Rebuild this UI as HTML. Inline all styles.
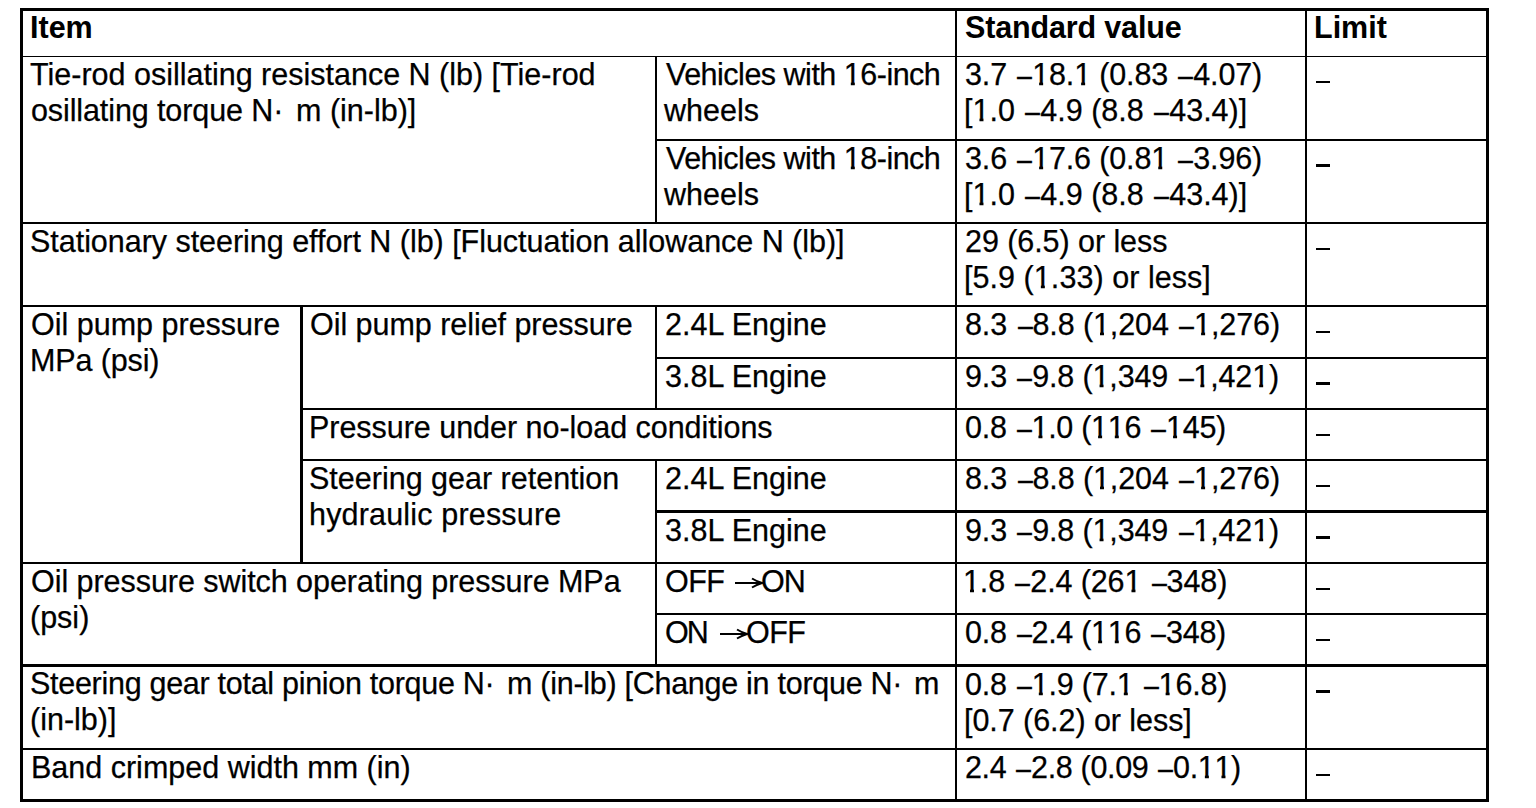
<!DOCTYPE html>
<html><head><meta charset="utf-8"><title>Steering specifications</title><style>
html,body{margin:0;padding:0;background:#fff;}
body{width:1536px;height:808px;position:relative;overflow:hidden;}
.l{position:absolute;background:#000;}
.t{position:absolute;font-family:"Liberation Sans",sans-serif;font-size:30.5px;line-height:36px;white-space:pre;color:#000;-webkit-text-stroke:0.25px #000;}
.b{font-weight:bold;-webkit-text-stroke:0;}
.o{display:inline-block;clip-path:polygon(0 0,100% 0,100% 26px,11px 26px,11px 40px,7px 40px,7px 26px,0 26px);}
.d{display:inline-block;transform:translateY(1px) scaleX(0.88);transform-origin:100% 50%;}
</style></head><body>
<div class="l" style="left:20px;top:8px;width:1469px;height:3px"></div>
<div class="l" style="left:20px;top:56px;width:1469px;height:1px"></div>
<div class="l" style="left:655px;top:139px;width:834px;height:2px"></div>
<div class="l" style="left:20px;top:222px;width:1469px;height:2px"></div>
<div class="l" style="left:20px;top:305px;width:1469px;height:2px"></div>
<div class="l" style="left:655px;top:357px;width:834px;height:2px"></div>
<div class="l" style="left:300px;top:408px;width:1189px;height:2px"></div>
<div class="l" style="left:300px;top:459px;width:1189px;height:2px"></div>
<div class="l" style="left:655px;top:510px;width:834px;height:3px"></div>
<div class="l" style="left:20px;top:562px;width:1469px;height:2px"></div>
<div class="l" style="left:655px;top:613px;width:834px;height:2px"></div>
<div class="l" style="left:20px;top:664px;width:1469px;height:3px"></div>
<div class="l" style="left:20px;top:748px;width:1469px;height:2px"></div>
<div class="l" style="left:20px;top:799px;width:1469px;height:3px"></div>
<div class="l" style="left:20px;top:8px;width:3px;height:794px"></div>
<div class="l" style="left:300px;top:305px;width:3px;height:259px"></div>
<div class="l" style="left:655px;top:56px;width:2px;height:168px"></div>
<div class="l" style="left:655px;top:305px;width:2px;height:105px"></div>
<div class="l" style="left:655px;top:459px;width:2px;height:207px"></div>
<div class="l" style="left:955px;top:8px;width:2px;height:794px"></div>
<div class="l" style="left:1305px;top:8px;width:2px;height:794px"></div>
<div class="l" style="left:1486px;top:8px;width:3px;height:794px"></div>
<div class="l" style="left:1316px;top:81px;width:14px;height:2px"></div>
<div class="l" style="left:1316px;top:164px;width:14px;height:3px"></div>
<div class="l" style="left:1316px;top:248px;width:14px;height:2px"></div>
<div class="l" style="left:1316px;top:331px;width:14px;height:2px"></div>
<div class="l" style="left:1316px;top:382px;width:14px;height:3px"></div>
<div class="l" style="left:1316px;top:434px;width:14px;height:2px"></div>
<div class="l" style="left:1316px;top:485px;width:14px;height:2px"></div>
<div class="l" style="left:1316px;top:536px;width:14px;height:3px"></div>
<div class="l" style="left:1316px;top:588px;width:14px;height:2px"></div>
<div class="l" style="left:1316px;top:639px;width:14px;height:2px"></div>
<div class="l" style="left:1316px;top:690px;width:14px;height:3px"></div>
<div class="l" style="left:1316px;top:774px;width:14px;height:2px"></div>
<div class="t b" style="left:30px;top:9px">Item</div>
<div class="t b" style="left:965px;top:9px;letter-spacing:-0.154px">Standard value</div>
<div class="t b" style="left:1314px;top:9px">Limit</div>
<div class="t" style="left:30px;top:56px">Tie-rod osillating resistance N (lb) [Tie-rod</div>
<div class="t" style="left:31px;top:92px;letter-spacing:-0.105px">osillating torque N·</div>
<div class="t" style="left:296px;top:92px">m (in-lb)]</div>
<div class="t" style="left:666px;top:56px;letter-spacing:-0.5px">Vehicles with <span class="o">1</span>6-inch</div>
<div class="t" style="left:664px;top:92px">wheels</div>
<div class="t" style="left:965px;top:56px;letter-spacing:-0.143px">3.7 <span class="d">–</span><span class="o">1</span>8.<span class="o">1</span> (0.83 <span class="d">–</span>4.07)</div>
<div class="t" style="left:964px;top:92px">[<span class="o">1</span>.0 <span class="d">–</span>4.9 (8.8 <span class="d">–</span>43.4)]</div>
<div class="t" style="left:666px;top:140px;letter-spacing:-0.5px">Vehicles with <span class="o">1</span>8-inch</div>
<div class="t" style="left:664px;top:176px">wheels</div>
<div class="t" style="left:965px;top:140px;letter-spacing:-0.143px">3.6 <span class="d">–</span><span class="o">1</span>7.6 (0.8<span class="o">1</span> <span class="d">–</span>3.96)</div>
<div class="t" style="left:964px;top:176px">[<span class="o">1</span>.0 <span class="d">–</span>4.9 (8.8 <span class="d">–</span>43.4)]</div>
<div class="t" style="left:30px;top:223px;letter-spacing:-0.032px">Stationary steering effort N (lb) [Fluctuation allowance N (lb)]</div>
<div class="t" style="left:965px;top:223px;letter-spacing:-0.067px">29 (6.5) or less</div>
<div class="t" style="left:964px;top:259px;letter-spacing:0.053px">[5.9 (<span class="o">1</span>.33) or less]</div>
<div class="t" style="left:31px;top:306px">Oil pump pressure</div>
<div class="t" style="left:30px;top:342px;letter-spacing:-0.125px">MPa (psi)</div>
<div class="t" style="left:310px;top:306px;letter-spacing:-0.043px">Oil pump relief pressure</div>
<div class="t" style="left:665px;top:306px">2.4L Engine</div>
<div class="t" style="left:965px;top:306px;letter-spacing:-0.091px">8.3 <span class="d">–</span>8.8 (<span class="o">1</span>,204 <span class="d">–</span><span class="o">1</span>,276)</div>
<div class="t" style="left:665px;top:358px">3.8L Engine</div>
<div class="t" style="left:965px;top:358px;letter-spacing:-0.136px">9.3 <span class="d">–</span>9.8 (<span class="o">1</span>,349 <span class="d">–</span><span class="o">1</span>,42<span class="o">1</span>)</div>
<div class="t" style="left:309px;top:409px;letter-spacing:-0.031px">Pressure under no-load conditions</div>
<div class="t" style="left:965px;top:409px;letter-spacing:-0.278px">0.8 <span class="d">–</span><span class="o">1</span>.0 (<span class="o">1</span><span class="o">1</span>6 <span class="d">–</span><span class="o">1</span>45)</div>
<div class="t" style="left:309px;top:460px">Steering gear retention</div>
<div class="t" style="left:309px;top:496px;letter-spacing:0.176px">hydraulic pressure</div>
<div class="t" style="left:665px;top:460px">2.4L Engine</div>
<div class="t" style="left:965px;top:460px;letter-spacing:-0.091px">8.3 <span class="d">–</span>8.8 (<span class="o">1</span>,204 <span class="d">–</span><span class="o">1</span>,276)</div>
<div class="t" style="left:665px;top:512px">3.8L Engine</div>
<div class="t" style="left:965px;top:512px;letter-spacing:-0.136px">9.3 <span class="d">–</span>9.8 (<span class="o">1</span>,349 <span class="d">–</span><span class="o">1</span>,42<span class="o">1</span>)</div>
<div class="t" style="left:31px;top:563px;letter-spacing:-0.049px">Oil pressure switch operating pressure MPa</div>
<div class="t" style="left:30px;top:599px">(psi)</div>
<div class="t" style="left:665px;top:563px;letter-spacing:-0.5px">OFF</div>
<div class="t" style="left:761px;top:563px;letter-spacing:-1.0px">ON</div>
<div class="t" style="left:963px;top:563px;letter-spacing:-0.111px"><span class="o">1</span>.8 <span class="d">–</span>2.4 (26<span class="o">1</span> <span class="d">–</span>348)</div>
<div class="t" style="left:665px;top:614px;letter-spacing:-2.0px">ON</div>
<div class="t" style="left:746px;top:614px;letter-spacing:-0.5px">OFF</div>
<div class="t" style="left:965px;top:614px;letter-spacing:-0.278px">0.8 <span class="d">–</span>2.4 (<span class="o">1</span><span class="o">1</span>6 <span class="d">–</span>348)</div>
<div class="t" style="left:30px;top:665px;letter-spacing:-0.286px">Steering gear total pinion torque N·</div>
<div class="t" style="left:507px;top:665px;letter-spacing:-0.276px">m (in-lb) [Change in torque N·</div>
<div class="t" style="left:914px;top:665px">m</div>
<div class="t" style="left:30px;top:701px">(in-lb)]</div>
<div class="t" style="left:965px;top:666px;letter-spacing:-0.211px">0.8 <span class="d">–</span><span class="o">1</span>.9 (7.<span class="o">1</span> <span class="d">–</span><span class="o">1</span>6.8)</div>
<div class="t" style="left:964px;top:702px;letter-spacing:-0.056px">[0.7 (6.2) or less]</div>
<div class="t" style="left:31px;top:749px">Band crimped width mm (in)</div>
<div class="t" style="left:965px;top:749px;letter-spacing:-0.35px">2.4 <span class="d">–</span>2.8 (0.09 <span class="d">–</span>0.<span class="o">1</span><span class="o">1</span>)</div>
<svg style="position:absolute;left:0;top:0" width="1536" height="808"><g stroke="#000" fill="none" stroke-width="2"><path d="M735 583H762M752 578.5Q756 581 762 583Q756 585 752 587.5"/><path d="M720 634H747M737 629.5Q741 632 747 634Q741 636 737 638.5"/></g></svg>
</body></html>
